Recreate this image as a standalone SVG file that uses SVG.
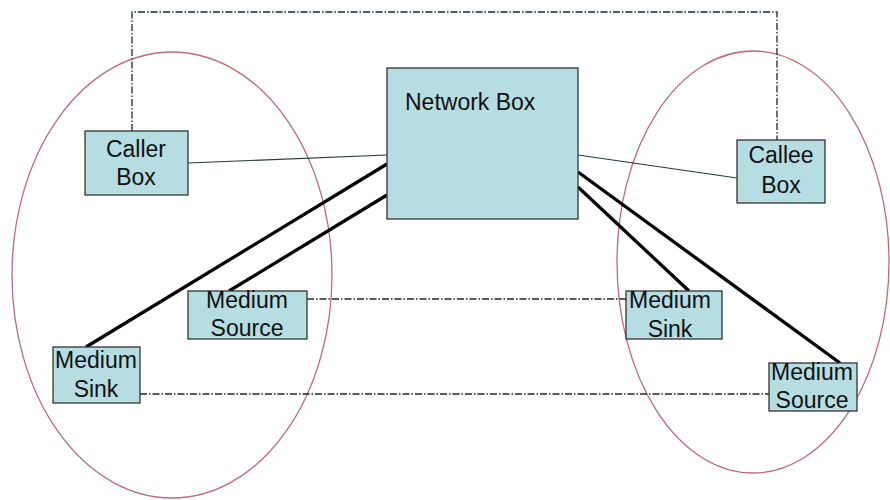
<svg xmlns="http://www.w3.org/2000/svg" width="890" height="500" viewBox="0 0 890 500">
<style>
.box{fill:#b5dde2;stroke:#333;stroke-width:1.3}
.t{font-family:"Liberation Sans",Arial,sans-serif;font-size:23px;fill:#111;text-anchor:middle}
.zone{fill:none;stroke:#c06a78;stroke-width:1.3}
.thin{stroke:#2a3a3c;stroke-width:1.2;fill:none}
.thick{stroke:#000;stroke-width:3.3;fill:none}
.dd{stroke:#1a2a30;stroke-width:1.3;fill:none;stroke-dasharray:7 2 1.5 2}
</style>
<rect width="890" height="500" fill="#fff"/>
<g id="zones">
<ellipse class="zone" cx="172" cy="275" rx="160" ry="223"/>
<ellipse class="zone" cx="753" cy="262" rx="136" ry="211"/>
</g>
<g id="connectors">
<polyline class="dd" points="132,131 132,12 777,12 777,140"/>
<line class="dd" x1="307" y1="299" x2="626" y2="299"/>
<line class="dd" x1="140" y1="394" x2="769" y2="394"/>
<line class="thin" x1="188" y1="163" x2="387" y2="155"/>
<line class="thin" x1="578" y1="155" x2="737" y2="178"/>
<line class="thick" x1="387" y1="164" x2="86" y2="347"/>
<line class="thick" x1="387" y1="195" x2="229" y2="291"/>
<line class="thick" x1="578" y1="172" x2="840" y2="363"/>
<line class="thick" x1="578" y1="187" x2="689" y2="291"/>
</g>
<g id="network-box">
<rect class="box" x="387" y="68" width="191" height="151"/>
<text class="t" x="405" y="110" style="text-anchor:start">Network Box</text>
</g>
<g id="caller-box">
<rect class="box" x="85" y="131" width="103" height="64"/>
<text class="t" x="136" y="157">Caller</text>
<text class="t" x="136" y="185">Box</text>
</g>
<g id="callee-box">
<rect class="box" x="737" y="140" width="88" height="63"/>
<text class="t" x="781" y="163">Callee</text>
<text class="t" x="781" y="193">Box</text>
</g>
<g id="medium-source-left">
<rect class="box" x="188" y="291" width="119" height="48"/>
<text class="t" x="247" y="308">Medium</text>
<text class="t" x="247" y="336">Source</text>
</g>
<g id="medium-sink-left">
<rect class="box" x="53" y="347" width="87" height="56"/>
<text class="t" x="96" y="368">Medium</text>
<text class="t" x="96" y="397">Sink</text>
</g>
<g id="medium-sink-right">
<rect class="box" x="626" y="291" width="96" height="48"/>
<text class="t" x="670" y="308">Medium</text>
<text class="t" x="670" y="337">Sink</text>
</g>
<g id="medium-source-right">
<rect class="box" x="769" y="363" width="88" height="48"/>
<text class="t" x="812" y="380">Medium</text>
<text class="t" x="812" y="408">Source</text>
</g>
</svg>
